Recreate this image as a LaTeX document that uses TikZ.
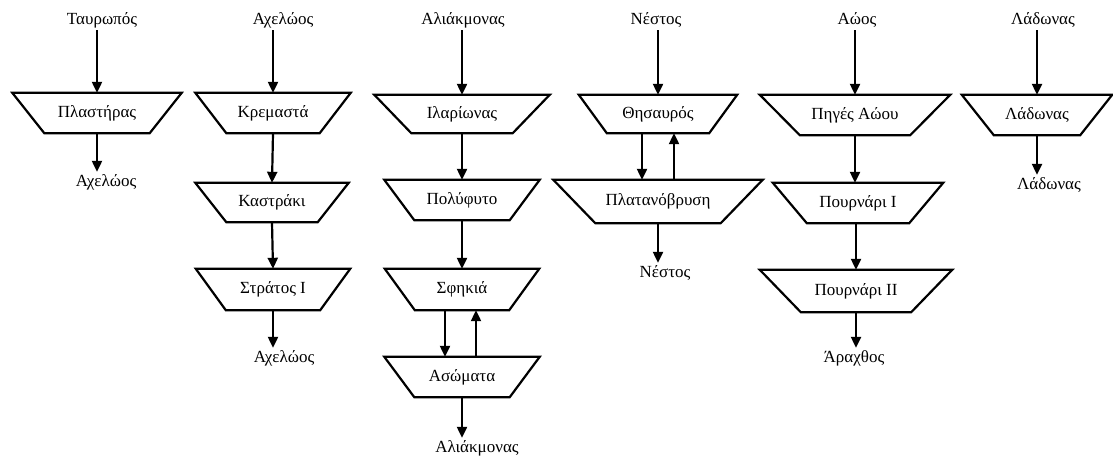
\documentclass[tikz,border=0pt]{standalone}
\usepackage{fontspec}
\setmainfont{Liberation Serif}
\usetikzlibrary{arrows.meta}
\tikzset{
  trapbox/.style={inner sep=0pt, font=\fontsize{17}{20}\selectfont},
  trapline/.style={line width=2.2pt, line join=miter},
  lbl/.style={inner sep=2pt, text height=12pt, text depth=4pt, font=\fontsize{17}{20}\selectfont},
  arr/.style={line width=2.2pt, -{Triangle[length=11pt,width=10pt]}}
}
% name, cx, cy, top width, height, slant, text
\newcommand\trap[7]{%
  \node[trapbox, minimum width=#4pt, minimum height=#5pt] (#1) at (#2,#3) {#7};
  \draw[trapline] (#1.north west) -- (#1.north east) -- ([xshift=-#6pt]#1.south east) -- ([xshift=#6pt]#1.south west) -- cycle;
}
\begin{document}
\begin{tikzpicture}[x=1pt,y=-1pt]
\useasboundingbox (0,0) rectangle (1113,459);
% column 1
\node[lbl] (t1) at (102,20) {Ταυρωπός};
\trap{pl}{97}{113}{169}{40}{32}{Πλαστήρας}
\node[lbl] (b1) at (106,182) {Αχελώος};
\draw[arr] (t1.south -| pl.north) -- (pl.north);
\draw[arr] (pl.south) -- (b1.north -| pl.south);
% column 2
\node[lbl] (t2) at (283,20) {Αχελώος};
\trap{kr}{273}{113}{155}{40}{31}{Κρεμαστά}
\trap{ka}{272}{202.5}{153}{39}{31}{Καστράκι}
\trap{st}{273}{289.5}{154}{41}{30}{Στράτος Ι}
\node[lbl] (b2) at (284,358) {Αχελώος};
\draw[arr] (t2.south -| kr.north) -- (kr.north);
\draw[arr] (kr.south) -- (ka.north);
\draw[arr] (ka.south) -- (st.north);
\draw[arr] (st.south) -- (b2.north -| st.south);
% column 3
\node[lbl] (t3) at (463,20) {Αλιάκμονας};
\trap{il}{462}{114}{175}{38}{37}{Ιλαρίωνας}
\trap{po}{462}{200}{155}{40}{30}{Πολύφυτο}
\trap{sf}{462}{289.5}{154}{41}{30}{Σφηκιά}
\trap{as}{462}{377}{155}{40}{30}{Ασώματα}
\node[lbl] (b3) at (477,448) {Αλιάκμονας};
\draw[arr] (t3.south -| il.north) -- (il.north);
\draw[arr] (il.south) -- (po.north);
\draw[arr] (po.south) -- (sf.north);
\draw[arr] ([xshift=-17pt]sf.south) -- ([xshift=-17pt]as.north);
\draw[arr] ([xshift=14pt]as.north) -- ([xshift=14pt]sf.south);
\draw[arr] (as.south) -- (b3.north -| as.south);
% column 4
\node[lbl] (t4) at (656,20) {Νέστος};
\trap{th}{658}{114}{158}{38}{28}{Θησαυρός}
\trap{pb}{658}{201.5}{209}{43}{42}{Πλατανόβρυση}
\node[lbl] (b4) at (665,273) {Νέστος};
\draw[arr] (t4.south -| th.north) -- (th.north);
\draw[arr] ([xshift=-16pt]th.south) -- ([xshift=-16pt]pb.north);
\draw[arr] ([xshift=16pt]pb.north) -- ([xshift=16pt]th.south);
\draw[arr] (pb.south) -- (b4.north -| pb.south);
% column 5
\node[lbl] (t5) at (857,20) {Αώος};
\trap{pa}{855}{115}{190}{40}{40}{Πηγές Αώου}
\trap{p1}{858}{203}{170}{40}{34}{Πουρνάρι Ι}
\trap{p2}{856}{291}{192}{42}{41}{Πουρνάρι ΙΙ}
\node[lbl] (b5) at (854,358) {Άραχθος};
\draw[arr] (t5.south -| pa.north) -- (pa.north);
\draw[arr] (pa.south) -- (p1.north -| pa.south);
\draw[arr] (p1.south -| p2.north) -- (p2.north);
\draw[arr] (p2.south) -- (b5.north -| p2.south);
% column 6
\node[lbl] (t6) at (1043,20) {Λάδωνας};
\trap{la}{1037}{115}{150}{40}{32}{Λάδωνας}
\node[lbl] (b6) at (1049,185) {Λάδωνας};
\draw[arr] (t6.south -| la.north) -- (la.north);
\draw[arr] (la.south) -- (b6.north -| la.south);
\end{tikzpicture}
\end{document}
